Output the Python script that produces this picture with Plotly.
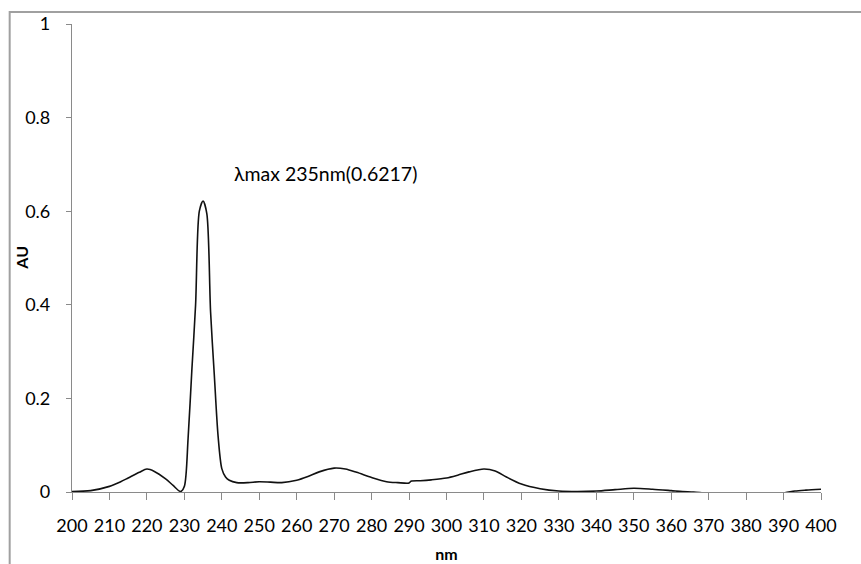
import plotly.graph_objects as go

# Wavelength (nm) and absorbance (AU)
wavelength = [200, 205, 210, 213, 215, 218, 220, 222, 225, 227, 229, 230,
              231, 232, 233, 234, 235, 236, 237, 238, 239, 240, 241, 242,
              244, 247, 250, 253, 256, 260, 263, 266, 270, 273, 276, 280,
              284, 287, 290, 290.5, 293, 296, 300, 303, 306, 310, 313, 316,
              320, 325, 330, 335, 340, 345, 350, 355, 360, 363, 366, 370,
              375, 380, 385, 390, 393, 396, 400]
absorbance = [0.001, 0.003, 0.012, 0.022, 0.030, 0.042, 0.049, 0.044, 0.028, 0.014, 0.001, 0.012,
              0.115, 0.26, 0.40, 0.60, 0.6217, 0.595, 0.385, 0.25, 0.12, 0.05, 0.032, 0.025,
              0.020, 0.020, 0.022, 0.021, 0.020, 0.025, 0.033, 0.043, 0.051, 0.049, 0.042, 0.031,
              0.022, 0.020, 0.019, 0.023, 0.024, 0.026, 0.030, 0.036, 0.043, 0.049, 0.045, 0.032,
              0.017, 0.007, 0.002, 0.001, 0.002, 0.005, 0.008, 0.006, 0.003, 0.001, 0.0, -0.003,
              -0.003, -0.003, -0.003, -0.002, 0.002, 0.004, 0.006]

x_ticks = list(range(200, 401, 10))
y_ticks = [0, 0.2, 0.4, 0.6, 0.8, 1]
y_tick_text = ["0", "0.2", "0.4", "0.6", "0.8", "1"]

peak_label = "λmax 235nm(0.6217)"
y_title = "AU"

FONT = "Lato, 'Open Sans', sans-serif"
AXIS_GRAY = "#8a8a8a"

fig = go.Figure()
fig.add_trace(go.Scatter(
    x=wavelength, y=absorbance, mode="lines",
    line=dict(color="#111111", width=1.6, shape="spline", smoothing=0.8),
    hoverinfo="skip", showlegend=False,
))

fig.update_layout(
    width=861, height=564,
    margin=dict(l=72, r=40, t=24, b=72),
    paper_bgcolor="white", plot_bgcolor="white",
    font=dict(family=FONT, size=18, color="#000000"),
    xaxis=dict(
        range=[200, 400], tickvals=x_ticks, ticktext=[str(t) for t in x_ticks],
        showgrid=False, zeroline=False, showline=True, linecolor=AXIS_GRAY, linewidth=1.2,
        ticks="outside", ticklen=7, tickcolor=AXIS_GRAY, tickwidth=1.2,
        ticklabelstandoff=10, automargin=False,
        tickfont=dict(family=FONT, size=18, color="#000"),
        title=dict(text="<b>nm</b>", font=dict(family=FONT, size=16, color="#000"), standoff=14),
    ),
    yaxis=dict(
        range=[0, 1], tickvals=y_ticks, ticktext=y_tick_text,
        showgrid=False, zeroline=False, showline=True, linecolor=AXIS_GRAY, linewidth=1.2,
        ticks="outside", ticklen=5, tickcolor=AXIS_GRAY, tickwidth=1.2,
        ticklabelstandoff=12, automargin=False,
        tickfont=dict(family=FONT, size=18, color="#000"),
    ),
    shapes=[dict(
        type="rect", xref="paper", yref="paper",
        x0=-0.0832, x1=1.07, y0=-0.18, y1=1.0257,
        line=dict(color="#a0a0a0", width=2), fillcolor="rgba(0,0,0,0)", layer="below",
    )],
    annotations=[
        dict(
            x=0.2133, y=0.681, xref="paper", yref="paper",
            xanchor="left", yanchor="middle", showarrow=False,
            text=peak_label, font=dict(family=FONT, size=19.5, color="#000"),
        ),
        dict(
            x=-0.0685, y=0.5, xref="paper", yref="paper",
            xanchor="center", yanchor="middle", showarrow=False, textangle=-90,
            text="<b>" + y_title + "</b>", font=dict(family=FONT, size=16, color="#000"),
        ),
    ],
)

fig.write_html("out.html")
